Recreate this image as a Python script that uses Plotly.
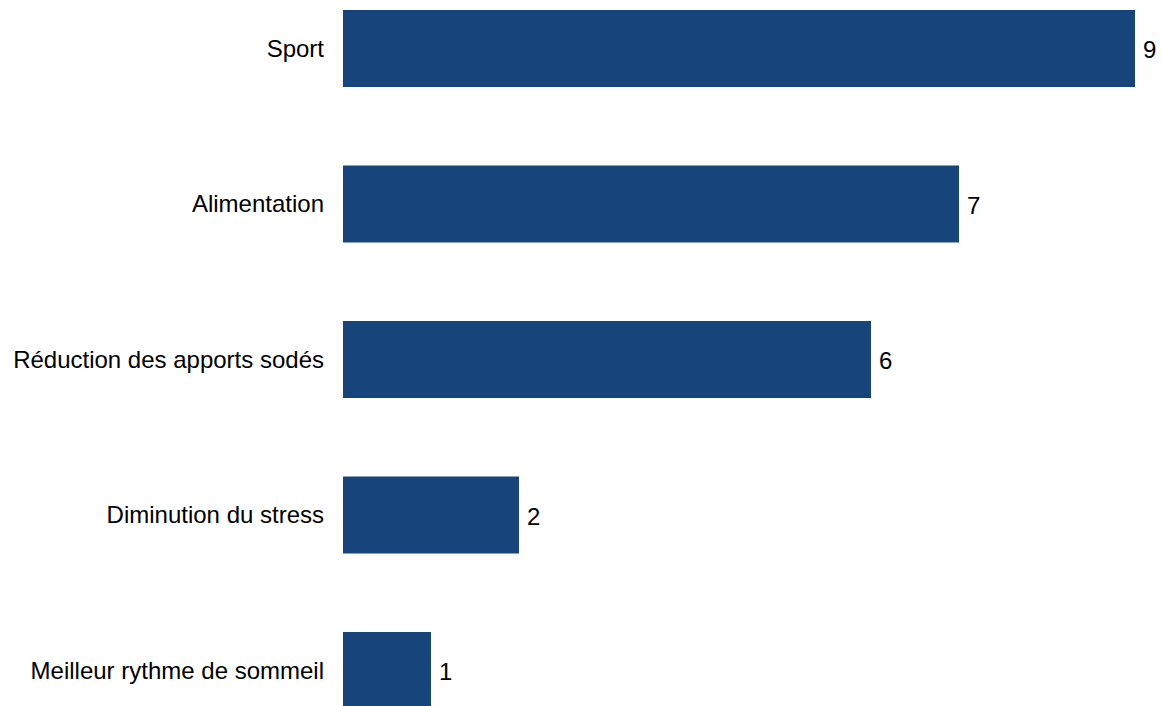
import plotly.graph_objects as go

categories = ["Sport", "Alimentation", "Réduction des apports sodés", "Diminution du stress", "Meilleur rythme de sommeil"]
values = [9, 7, 6, 2, 1]

W, H = 1162, 706
L = 343
px_per_unit = 88.0
center_first = 48.5
spacing = 155.5
FONT = "Liberation Sans, Arial, Helvetica, sans-serif"

fig = go.Figure(go.Bar(
    x=values, y=categories, orientation="h",
    marker=dict(color="#17457B", line=dict(width=0)),
    width=0.495,
    hoverinfo="x+y",
))

for c, v in zip(categories, values):
    fig.add_annotation(x=v, y=c, text=str(v), showarrow=False, xanchor="left",
                       yanchor="middle", xshift=6, yshift=-1,
                       font=dict(family=FONT, size=24, color="#000000"))

top_val = -center_first / spacing
bot_val = (len(categories) - 1) + (H - (center_first + (len(categories) - 1) * spacing)) / spacing

fig.update_layout(
    width=W, height=H,
    margin=dict(l=L, r=0, t=0, b=0, pad=0),
    paper_bgcolor="white", plot_bgcolor="white",
    font=dict(family=FONT, size=24, color="#000000"),
    showlegend=False,
    xaxis=dict(range=[0, (W - L) / px_per_unit], visible=False, showgrid=False, zeroline=False),
    yaxis=dict(categoryorder="array", categoryarray=categories, range=[bot_val, top_val],
               showgrid=False, zeroline=False, showline=False, ticks="", ticklabelstandoff=18,
               automargin=False, tickfont=dict(family=FONT, size=24, color="#000000")),
)

fig.write_html("out.html")
